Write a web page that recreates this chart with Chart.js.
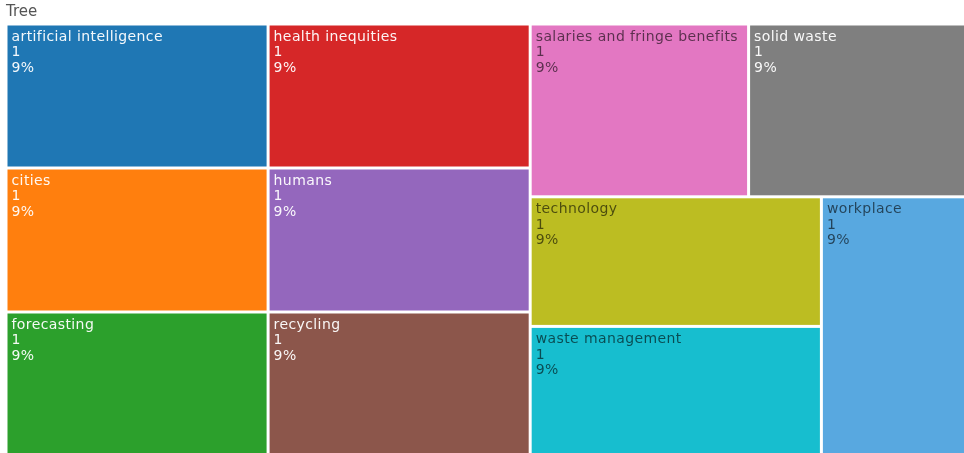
<!DOCTYPE html>
<html>
<head>
<meta charset="utf-8">
<script src="https://cdn.jsdelivr.net/npm/chart.js@4/dist/chart.umd.min.js"></script>
<style>
  html, body { margin: 0; padding: 0; background: #fff; overflow: hidden; }
  #wrap { position: relative; width: 967px; height: 456px; }
</style>
</head>
<body>
<div id="wrap"><canvas id="chart"></canvas></div>
<script>
// data
const categories = [
    "artificial intelligence", "cities", "forecasting", "health inequities",
    "humans", "recycling", "salaries and fringe benefits", "solid waste",
    "technology", "waste management", "workplace"
];
const counts = [1, 1, 1, 1, 1, 1, 1, 1, 1, 1, 1];

// colours
const palette = [
    "#1f77b4", "#ff7f0e", "#2ca02c", "#d62728", "#9467bd", "#8c564b",
    "#e377c2", "#7f7f7f", "#bcbd22", "#17becf", "#58a8e0"
];
const WHITE = "rgba(255,255,255,0.95)";
const DARK = "rgba(0,0,0,0.6)";
const labelColors = [
    WHITE, WHITE, WHITE, WHITE, WHITE, WHITE,
    DARK, WHITE, DARK, DARK, DARK
];

// layout space (squarify works in these units, scales map them to pixels)
const SPACE_W = 155;
const SPACE_H = 100;
const PHI = (1 + Math.sqrt(5)) / 2;

// squarified tiling, same idea as d3-hierarchy
function squarify(values, x0, y0, x1, y1, ratio) {
    const rects = [];
    const n = values.length;
    let value = values.reduce((a, b) => a + b, 0);
    let i0 = 0, i1 = 0;
    while (i0 < n) {
        const dx = x1 - x0, dy = y1 - y0;
        let sumValue = values[i1++];
        let minValue = sumValue, maxValue = sumValue;
        const alpha = Math.max(dy / dx, dx / dy) / (value * ratio);
        let beta = sumValue * sumValue * alpha;
        let minRatio = Math.max(maxValue / beta, beta / minValue);
        for (; i1 < n; ++i1) {
            const v = values[i1];
            sumValue += v;
            if (v < minValue) minValue = v;
            if (v > maxValue) maxValue = v;
            beta = sumValue * sumValue * alpha;
            const newRatio = Math.max(maxValue / beta, beta / minValue);
            if (newRatio > minRatio) { sumValue -= v; break; }
            minRatio = newRatio;
        }
        if (dx < dy) {
            // row along the top
            const yy = y0 + dy * sumValue / value;
            let x = x0;
            for (let i = i0; i < i1; i++) {
                const w = (x1 - x0) * values[i] / sumValue;
                rects.push({ index: i, x0: x, y0: y0, x1: x + w, y1: yy });
                x += w;
            }
            y0 = yy;
        } else {
            // column along the left
            const xx = x0 + dx * sumValue / value;
            let y = y0;
            for (let i = i0; i < i1; i++) {
                const h = (y1 - y0) * values[i] / sumValue;
                rects.push({ index: i, x0: x0, y0: y, x1: xx, y1: y + h });
                y += h;
            }
            x0 = xx;
        }
        value -= sumValue;
        i0 = i1;
    }
    return rects;
}

const treemapPlugin = {
    id: "treemap",
    afterDatasetsDraw(chart) {
        const ctx = chart.ctx;
        const xs = chart.scales.x;
        const ys = chart.scales.y;
        const total = counts.reduce((a, b) => a + b, 0);
        const rects = squarify(counts, 0, 0, SPACE_W, SPACE_H, PHI);
        const gap = 1.5;

        rects.forEach(r => {
            const left = xs.getPixelForValue(r.x0) + gap;
            const right = xs.getPixelForValue(r.x1) - gap;
            const top = ys.getPixelForValue(r.y0) + gap;
            const bottom = ys.getPixelForValue(r.y1) - gap;

            ctx.save();
            ctx.fillStyle = palette[r.index % palette.length];
            ctx.fillRect(left, top, right - left, bottom - top);

            // labels
            ctx.beginPath();
            ctx.rect(left, top, right - left, bottom - top);
            ctx.clip();
            ctx.font = "14px 'DejaVu Sans', Verdana, sans-serif";
            ctx.letterSpacing = "0.4px";
            ctx.textBaseline = "top";
            ctx.textAlign = "left";
            ctx.fillStyle = labelColors[r.index % labelColors.length];
            const lines = [
                categories[r.index],
                String(counts[r.index]),
                Math.round(counts[r.index] / total * 100) + "%"
            ];
            lines.forEach((t, k) => ctx.fillText(t, left + 4, top + 4.5 + k * 15.5));
            ctx.restore();
        });
    }
};

const ctx = document.getElementById("chart").getContext("2d");
new Chart(ctx, {
    type: "scatter",
    data: {
        datasets: [{
            data: [],
            pointRadius: 0
        }]
    },
    options: {
        responsive: true,
        maintainAspectRatio: false,
        animation: false,
        events: [],
        layout: { padding: { left: 6, right: 0, top: 0, bottom: 0 } },
        plugins: {
            legend: { display: false },
            tooltip: { enabled: false },
            title: {
                display: true,
                text: "Tree",
                align: "start",
                color: "#555",
                font: { family: "'DejaVu Sans', Verdana, sans-serif", size: 15, weight: "normal", lineHeight: 1.1 },
                padding: { top: 3.5, bottom: 4 }
            }
        },
        scales: {
            x: { type: "linear", min: 0, max: SPACE_W, display: false },
            y: { type: "linear", min: 0, max: SPACE_H, reverse: true, display: false }
        }
    },
    plugins: [treemapPlugin]
});
</script>
</body>
</html>
